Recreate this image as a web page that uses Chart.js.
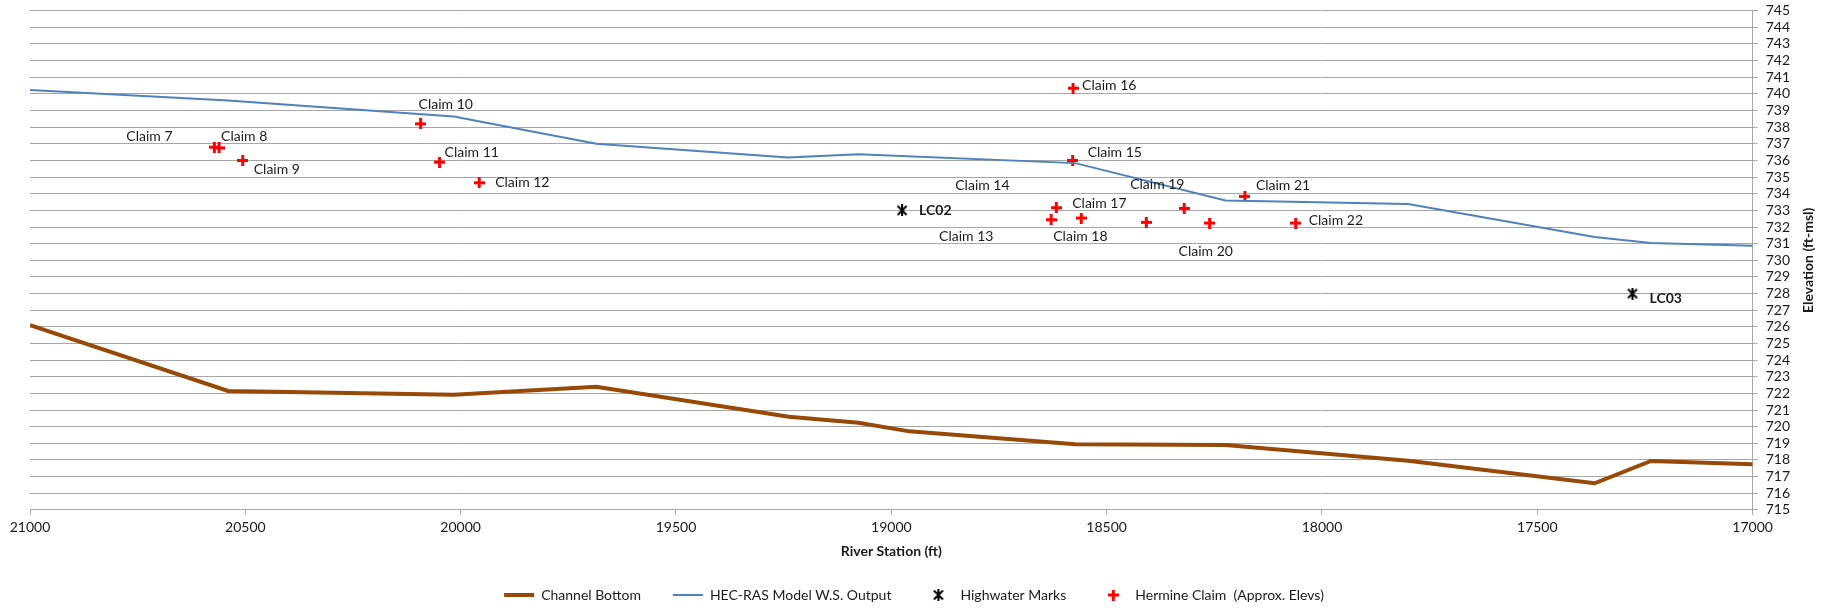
<!DOCTYPE html>
<html>
<head>
<meta charset="utf-8">
<title>River profile</title>
<script src="https://cdn.jsdelivr.net/npm/chart.js@4.4.1/dist/chart.umd.min.js"></script>
<style>
    html, body { margin: 0; padding: 0; background: #fff; }
    #wrap { width: 1825px; height: 616px; position: relative; }
</style>
</head>
<body>
<div id="wrap"><canvas id="profile"></canvas></div>
<script>
// River station (ft) and elevations (ft-msl)
const channelStation = [21000, 20540, 20016, 19685, 19238, 19076, 18958, 18573, 18224, 17800, 17367, 17236, 17000];
const channelElev = [726.1, 722.15, 721.92, 722.4, 720.6, 720.24, 719.72, 718.94, 718.9, 717.96, 716.6, 717.94, 717.74];

const wsStation = [21000, 20540, 20016, 19685, 19240, 19076, 18573, 18224, 17800, 17367, 17236, 17000];
const wsElev = [740.24, 739.6, 738.64, 737.0, 736.18, 736.38, 735.84, 733.6, 733.38, 731.4, 731.04, 730.88];

const hwmNames = ['LC02', 'LC03'];
const hwmStation = [18975, 17279];
const hwmElev = [733.0, 728.0];

const claimNames = ['Claim 7', 'Claim 8', 'Claim 9', 'Claim 10', 'Claim 11', 'Claim 12', 'Claim 13', 'Claim 14',
    'Claim 15', 'Claim 16', 'Claim 17', 'Claim 18', 'Claim 19', 'Claim 20', 'Claim 21', 'Claim 22'];
const claimStation = [20572, 20561, 20506, 20093, 20049, 19957, 18629, 18617, 18579, 18578, 18559, 18408, 18320, 18261, 18179, 18061];
const claimElev = [736.8, 736.75, 736.0, 738.2, 735.9, 734.66, 732.44, 733.16, 736.0, 740.34, 732.54, 732.28, 733.12, 732.24, 733.84, 732.24];

const stationTicks = { min: 17000, max: 21000, step: 500 };
const elevTicks = { min: 715, max: 745, step: 1 };

// label placement (pixel offsets from the marker, left edge / middle of text)
const claimLabelOffsets = [[-88, -11], [2, -11], [11, 9], [-2, -19], [5, -10], [16, 0], [-112, 17], [-101, -22],
    [15, -8], [9, -3], [-9, -15], [-93, 14], [-54, -24], [-31, 28], [11, -11], [13, -3]];
const hwmLabelOffsets = [[17, 0], [17, 5]];

const gridGray = '#a6a6a6';
const textColor = '#1a1a1a';
const fontFamily = 'Lato, "Open Sans", sans-serif';

function toPoints(xs, ys) {
    return xs.map((x, i) => ({ x: x, y: ys[i] }));
}

// Excel style star marker (X with a vertical bar)
function makeStar() {
    const c = document.createElement('canvas');
    c.width = 12; c.height = 12;
    const g = c.getContext('2d');
    g.strokeStyle = '#000';
    g.lineWidth = 2;
    g.beginPath();
    g.moveTo(1.5, 1.5); g.lineTo(10.5, 10.5);
    g.moveTo(10.5, 1.5); g.lineTo(1.5, 10.5);
    g.moveTo(6, 0); g.lineTo(6, 12);
    g.stroke();
    return c;
}

// red plus marker
function makePlus() {
    const c = document.createElement('canvas');
    c.width = 11; c.height = 11;
    const g = c.getContext('2d');
    g.fillStyle = '#ff0000';
    g.fillRect(0, 4, 11, 3);
    g.fillRect(4, 0, 3, 11);
    return c;
}

const starMarker = makeStar();
const plusMarker = makePlus();

const pointLabels = {
    id: 'pointLabels',
    afterDatasetsDraw(chart) {
        const ctx = chart.ctx;
        const xs = chart.scales.x, ys = chart.scales.y;
        ctx.save();
        ctx.fillStyle = textColor;
        ctx.textAlign = 'left';
        ctx.textBaseline = 'middle';
        ctx.font = '14px ' + fontFamily;
        claimNames.forEach((name, i) => {
            const px = xs.getPixelForValue(claimStation[i]);
            const py = ys.getPixelForValue(claimElev[i]);
            ctx.fillText(name, px + claimLabelOffsets[i][0], py + claimLabelOffsets[i][1]);
        });
        ctx.font = 'bold 14px ' + fontFamily;
        hwmNames.forEach((name, i) => {
            const px = xs.getPixelForValue(hwmStation[i]);
            const py = ys.getPixelForValue(hwmElev[i]);
            ctx.fillText(name, px + hwmLabelOffsets[i][0], py + hwmLabelOffsets[i][1]);
        });
        ctx.restore();
    }
};

// right axis title reads bottom-to-top, so draw it by hand
const elevTitle = {
    id: 'elevTitle',
    afterDraw(chart) {
        const ctx = chart.ctx;
        const area = chart.chartArea;
        ctx.save();
        ctx.translate(chart.width - 17, (area.top + area.bottom) / 2);
        ctx.rotate(-Math.PI / 2);
        ctx.fillStyle = textColor;
        ctx.textAlign = 'center';
        ctx.textBaseline = 'middle';
        ctx.font = 'bold 14px ' + fontFamily;
        ctx.fillText('Elevation (ft-msl)', 0, 0);
        ctx.restore();
    }
};

new Chart(document.getElementById('profile'), {
    type: 'scatter',
    data: {
        datasets: [
            {
                label: 'Channel Bottom',
                data: toPoints(channelStation, channelElev),
                showLine: true,
                borderColor: '#984807',
                borderWidth: 4,
                pointRadius: 0,
                tension: 0
            },
            {
                label: 'HEC-RAS Model W.S. Output',
                data: toPoints(wsStation, wsElev),
                showLine: true,
                borderColor: '#4f81bd',
                borderWidth: 2,
                pointRadius: 0,
                tension: 0
            },
            {
                label: 'Highwater Marks',
                data: toPoints(hwmStation, hwmElev),
                pointStyle: starMarker,
                pointRadius: 6
            },
            {
                label: 'Hermine Claim  (Approx. Elevs)',
                data: toPoints(claimStation, claimElev),
                pointStyle: plusMarker,
                pointRadius: 6
            }
        ]
    },
    options: {
        responsive: true,
        maintainAspectRatio: false,
        animation: false,
        layout: {
            padding: { left: 30, right: 27, top: 0, bottom: 4 }
        },
        scales: {
            x: {
                type: 'linear',
                reverse: true,
                min: stationTicks.min,
                max: stationTicks.max,
                ticks: {
                    stepSize: stationTicks.step,
                    color: textColor,
                    font: { family: fontFamily, size: 14 },
                    padding: 4,
                    maxRotation: 0,
                    autoSkip: false,
                    callback: (v) => String(v)
                },
                grid: {
                    drawOnChartArea: false,
                    drawTicks: true,
                    tickLength: 5,
                    color: gridGray
                },
                border: { color: gridGray },
                title: {
                    display: true,
                    text: 'River Station (ft)',
                    color: textColor,
                    font: { family: fontFamily, size: 14, weight: 'bold' },
                    padding: { top: 3.5, bottom: -4 }
                }
            },
            y: {
                type: 'linear',
                position: 'right',
                min: elevTicks.min,
                max: elevTicks.max,
                ticks: {
                    stepSize: elevTicks.step,
                    autoSkip: false,
                    color: textColor,
                    font: { family: fontFamily, size: 14 },
                    padding: 8
                },
                grid: {
                    color: gridGray,
                    tickLength: 5
                },
                border: { color: gridGray },
                afterFit: (scale) => {
                    // keep the top of the plot close to the canvas edge
                    scale.paddingTop = 10.7;
                }
            }
        },
        plugins: {
            legend: {
                position: 'bottom',
                labels: {
                    usePointStyle: true,
                    pointStyleWidth: 30,
                    padding: 32,
                    color: textColor,
                    font: { family: fontFamily, size: 14 },
                    generateLabels: (chart) => chart.data.datasets.map((ds, i) => ({
                        text: ds.label,
                        datasetIndex: i,
                        hidden: false,
                        fillStyle: ds.showLine ? ds.borderColor : '#000',
                        strokeStyle: ds.showLine ? ds.borderColor : '#000',
                        lineWidth: ds.showLine ? ds.borderWidth : 0,
                        pointStyle: ds.showLine ? 'line' : ds.pointStyle,
                        fontColor: textColor
                    }))
                }
            },
            tooltip: { enabled: false }
        }
    },
    plugins: [pointLabels, elevTitle]
});
</script>
</body>
</html>
